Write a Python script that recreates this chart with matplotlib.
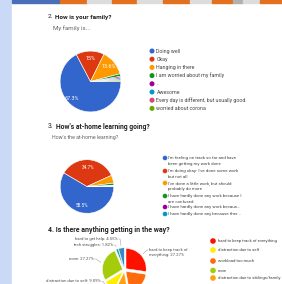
import numpy as np
import matplotlib
matplotlib.use("Agg")
import matplotlib.pyplot as plt
from matplotlib.patches import Rectangle, Circle

plt.rcParams['font.family'] = ['Roboto', 'DejaVu Sans']

# ---------------- data ----------------
fam_labels = ["Doing well", "Okay", "Hanging in there", "I am worried about my family", ".",
              "Awesome", "Every day is different, but usually good.", "worried about corona"]
fam_values = [67.3, 15.0, 13.6, 1.4, 0.7, 0.7, 0.7, 0.6]
fam_colors = ["#3366cc", "#dc3912", "#ff9900", "#109618", "#990099", "#0099c6", "#dd4477", "#66aa00"]

learn_labels = ["I'm feeling on track so far and have\nbeen getting my work done",
                "I'm doing okay- I've done some work\nbut not all",
                "I've done a little work, but should\nprobably do more",
                "I have hardly done any work because I\nare confused",
                "I have hardly done any work becaus...",
                "I have hardly done any because ther..."]
learn_values = [58.5, 34.7, 4.8, 1.4, 0.3, 0.3]
learn_colors = ["#3366cc", "#dc3912", "#ff9900", "#109618", "#990099", "#0099c6"]

way_labels = ["hard to keep track of\neverything", "workload too much", "distraction due to siblings/family",
              "distraction due to self", "none", "tech struggles", "hard to get help"]
way_values = [27.27, 20.00, 10.00, 9.09, 27.27, 1.82, 4.55]
way_colors = ["#ff1100", "#ff6a0d", "#ffa10d", "#ffee00", "#a4cc0a", "#16a5a5", "#3a87c8"]
way_legend = ["hard to keep track of everything", "distraction due to self", "workload too much",
              "none", "distraction due to siblings/family"]
way_legend_colors = ["#ff1100", "#ffee00", "#ff6a0d", "#a4cc0a", "#ffa10d"]

W, H = 282, 284
fig = plt.figure(figsize=(W / 100, H / 100), dpi=100)
bg = fig.add_axes([0, 0, 1, 1])
bg.set_xlim(0, W)
bg.set_ylim(H, 0)
bg.axis('off')

# page background
bg.add_patch(Rectangle((0, 0), 12, H, color="#c9d9f6", zorder=0))
bg.add_patch(Rectangle((12, 0), W - 12, H, color="white", zorder=0))
top_segments = [(12, 60, "#4a6fb8"), (60, 87, "#e2701e"), (87, 112, "#dcdcdc"), (112, 137, "#e2701e"),
                (137, 163, "#dcdcdc"), (163, 190, "#e2701e"), (190, 212, "#dcdcdc"), (212, 233, "#e2701e"),
                (233, 243, "#b0b0b0"), (243, 260, "#dcdcdc"), (260, 282, "#e2701e")]
for x0, x1, c in top_segments:
    bg.add_patch(Rectangle((x0, 0), x1 - x0, 3, color=c, zorder=1))

title_c = "#202124"
sub_c = "#5f6368"

# titles
bg.text(48, 17, "2.", fontsize=4.6, color=title_c, va='center')
bg.text(55, 17, "How is your family?", fontsize=4.6, fontweight='bold', color=title_c, va='center')
bg.text(53, 28, "My family is...", fontsize=4.4, color=sub_c, va='center')
bg.text(48, 127, "3.", fontsize=4.9, color=title_c, va='center')
bg.text(55.5, 127, "How's at-home learning going?", fontsize=4.9, fontweight='bold', color=title_c, va='center')
bg.text(52, 138, "How's the at-home learning?", fontsize=3.8, color=sub_c, va='center')
bg.text(48, 230, "4. Is there anything getting in the way?", fontsize=5.0, fontweight='bold',
        color=title_c, va='center')


def pie_axes(cx, cy, r):
    ax = fig.add_axes([(cx - r) / W, 1 - (cy + r) / H, 2 * r / W, 2 * r / H])
    ax.set_xlim(-1, 1)
    ax.set_ylim(-1, 1)
    ax.set_aspect('equal')
    ax.axis('off')
    return ax


def pct_fmt(p):
    if p < 5:
        return ''
    s = f"{p:.1f}"
    if s.endswith('.0'):
        s = s[:-2]
    return s + '%'


# ---- pie 1 ----
ax1 = pie_axes(90.5, 81.5, 38)
w1, t1, a1 = ax1.pie(fam_values, colors=fam_colors, startangle=0, counterclock=False, radius=1,
                     autopct=pct_fmt, pctdistance=0.76,
                     wedgeprops=dict(edgecolor='white', linewidth=0.4),
                     textprops=dict(color='white', fontsize=3.9))
a1[0].set_position((-0.62, -0.55))

# legend 1
for i, (lab, col) in enumerate(zip(fam_labels, fam_colors)):
    y = 51 + i * 8.2
    bg.add_patch(Circle((152, y), 1.8, color=col, zorder=3))
    bg.text(156.5, y, lab, fontsize=3.8, color="#444444", va='center')

# ---- pie 2 ----
ax2 = pie_axes(87, 186.5, 33.5)
w2, t2, a2 = ax2.pie(learn_values, colors=learn_colors, startangle=0, counterclock=False, radius=1,
                     autopct=pct_fmt, pctdistance=0.72,
                     wedgeprops=dict(edgecolor='white', linewidth=0.4),
                     textprops=dict(color='white', fontsize=3.4))

legend2_y = [158, 171, 183, 196, 207, 214]
for lab, col, y in zip(learn_labels, learn_colors, legend2_y):
    bg.add_patch(Circle((165, y), 1.6, color=col, zorder=3))
    bg.text(168.5, y - 1.6, lab, fontsize=3.2, color="#444444", va='top', linespacing=1.5)

# ---- pie 3 ----
cx3, cy3, r3 = 124.5, 270, 21
ax3 = pie_axes(cx3, cy3, r3 * 1.2)
ax3.set_xlim(-1.2, 1.2)
ax3.set_ylim(-1.2, 1.2)
w3, t3 = ax3.pie(way_values, colors=way_colors, startangle=90, counterclock=False, radius=1,
                 explode=[0.1] * len(way_values),
                 wedgeprops=dict(edgecolor='white', linewidth=0.3))


def anchor(i, rad=1.08):
    wdg = w3[i]
    th = np.deg2rad((wdg.theta1 + wdg.theta2) / 2)
    c = wdg.center
    return (cx3 + (c[0] + rad * np.cos(th)) * r3, cy3 - (c[1] + rad * np.sin(th)) * r3)


lab_c = "#555555"
line_c = "#999999"
# (slice index, text, text x, text y, ha)
callouts = [
    (6, "hard to get help: 4.55%", 118, 239, 'right'),
    (5, "tech struggles: 1.82%", 113, 245, 'right'),
    (4, "none: 27.27%", 94, 259, 'right'),
    (3, "distraction due to self: 9.09%", 101, 281.5, 'right'),
    (0, "hard to keep track of\neverything: 27.27%", 149, 252.5, 'left'),
]
for idx, txt, tx, ty, ha in callouts:
    axp = anchor(idx)
    elbow_x = tx + (2 if ha == 'right' else -2)
    bg.plot([axp[0], elbow_x, tx + (0.8 if ha == 'right' else -0.8)],
            [axp[1], ty if '\n' not in txt else ty - 2.5, ty if '\n' not in txt else ty - 2.5],
            color=line_c, lw=0.35, zorder=5)
    bg.text(tx, ty, txt, fontsize=3.1, color=lab_c, ha=ha, va='center', linespacing=1.2, zorder=6)

legend3_y = [241, 250, 261, 270.5, 278]
for lab, col, y in zip(way_legend, way_legend_colors, legend3_y):
    bg.add_patch(Circle((213, y), 2.1, color=col, zorder=3))
    bg.text(217.5, y, lab, fontsize=3.1, color="#444444", va='center')

fig.savefig("out.png", dpi=100)
